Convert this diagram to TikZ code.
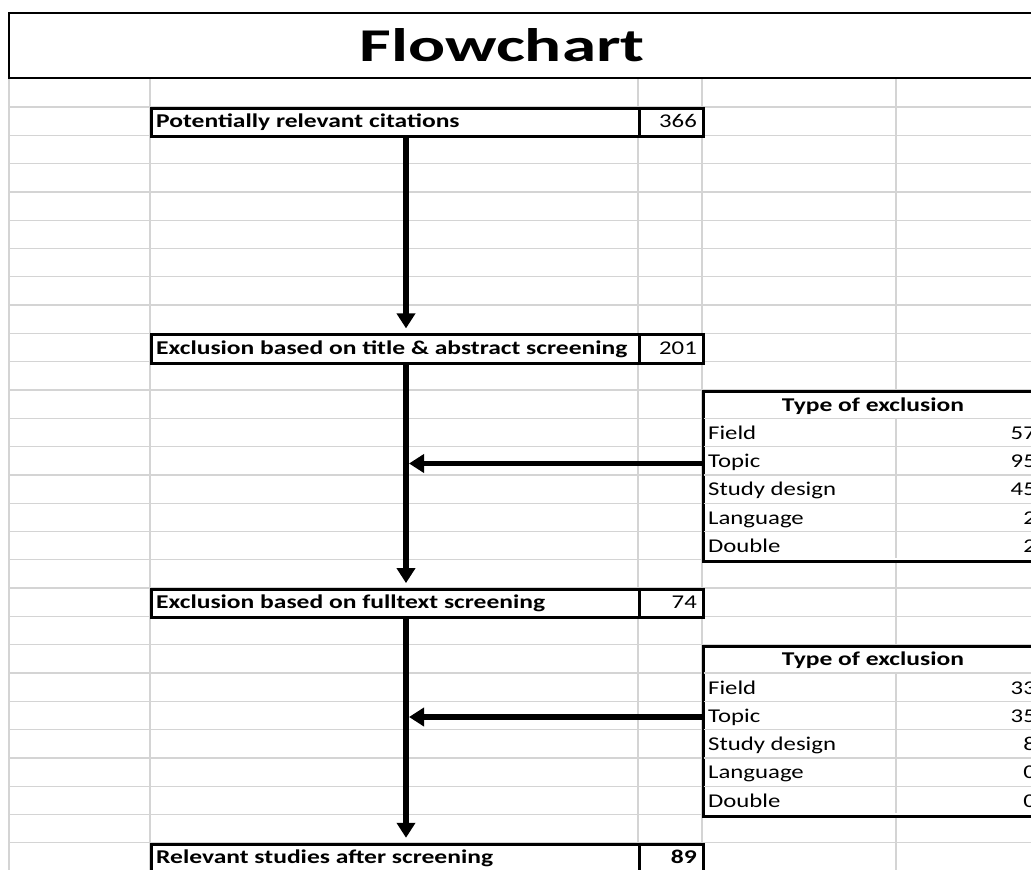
\documentclass[tikz,border=0pt]{standalone}
\usepackage{fontspec}
\setmainfont{Carlito}[FakeStretch=1.27, BoldFeatures={FakeStretch=1.31}]
\newfontfamily\titlefont{Carlito}[FakeStretch=1.47]
\usetikzlibrary{arrows.meta}
\definecolor{gridgray}{HTML}{D4D4D4}
\begin{document}
\begin{tikzpicture}[x=1pt,y=-1pt,
  grid/.style={draw=gridgray, line width=1.3pt},
  cellbox/.style={draw=black, line width=3pt, fill=white, minimum height=28.3pt, inner sep=0pt, anchor=north west},
  tablebox/.style={draw=black, line width=3pt, fill=white, minimum height=169.8pt, minimum width=345pt, inner sep=0pt, anchor=north west},
  lbl/.style={anchor=base west, inner sep=0pt, font=\fontsize{19.5}{22}\selectfont\bfseries},
  num/.style={anchor=base east, inner sep=0pt, font=\fontsize{19.5}{22}\selectfont},
  numb/.style={num, font=\fontsize{19.5}{22}\selectfont\bfseries},
  rowtxt/.style={anchor=base west, inner sep=0pt, font=\fontsize{19.5}{22}\selectfont},
  head/.style={anchor=base, inner sep=0pt, font=\fontsize{19.5}{22}\selectfont\bfseries},
  flow/.style={line width=5.5pt, -{Triangle[width=18pt,length=15pt]}},
]
\useasboundingbox (0,0) rectangle (1031,870);
\clip (0,0) rectangle (1031,870);
\fill[white] (0,0) rectangle (1031,870);
% spreadsheet grid
\foreach \k in {1,...,28} \draw[grid] (9,{107+28.3*(\k-1)}) -- (1031,{107+28.3*(\k-1)});
\foreach \x in {9,150,638,702,896} \draw[grid] (\x,77) -- (\x,870);
% title
\node[draw, line width=2pt, fill=white, minimum width=1100pt, minimum height=65pt, anchor=north west, inner sep=0pt] (titlecell) at (8,12) {};
\node[anchor=base, inner sep=0pt, font=\titlefont\fontsize{47}{50}\selectfont\bfseries] (title) at (502,61.7) {Flowchart};
% boxes
\node[cellbox, minimum width=488pt] (b1) at (150,107) {};
\node[cellbox, minimum width=64pt] (n1) at (638,107) {};
\node[lbl] (b1t) at (156,127.7) {Potentially relevant citations};
\node[num] (n1t) at (697,127.7) {366};
\node[cellbox, minimum width=488pt] (b2) at (150,333.4) {};
\node[cellbox, minimum width=64pt] (n2) at (638,333.4) {};
\node[lbl] (b2t) at (156,354.1) {Exclusion based on title \& abstract screening};
\node[num] (n2t) at (697,354.1) {201};
\node[cellbox, minimum width=488pt] (b3) at (150,588.1) {};
\node[cellbox, minimum width=64pt] (n3) at (638,588.1) {};
\node[lbl] (b3t) at (156,608.8) {Exclusion based on fulltext screening};
\node[num] (n3t) at (697,608.8) {74};
\node[cellbox, minimum width=488pt] (b4) at (150,842.8) {};
\node[cellbox, minimum width=64pt] (n4) at (638,842.8) {};
\node[lbl] (b4t) at (156,863.5) {Relevant studies after screening};
\node[numb] (n4t) at (697,863.5) {89};
% table 1
\node[tablebox] (t1) at (702,390) {};
\foreach \j in {1,...,5} \draw[grid] (703.5,{390+28.3*\j}) -- (1031,{390+28.3*\j});
\draw[grid] (896,418.3) -- (896,558.3);
\node[head] (t1h) at (873,411) {Type of exclusion};
\node[rowtxt] (t1r1) at (708,439.3) {Field};
\node[num] (t1v1) at (1036,439.3) {57};
\node[rowtxt] (t1r2) at (708,467.6) {Topic};
\node[num] (t1v2) at (1036,467.6) {95};
\node[rowtxt] (t1r3) at (708,495.9) {Study design};
\node[num] (t1v3) at (1036,495.9) {45};
\node[rowtxt] (t1r4) at (708,524.2) {Language};
\node[num] (t1v4) at (1036,524.2) {2};
\node[rowtxt] (t1r5) at (708,552.5) {Double};
\node[num] (t1v5) at (1036,552.5) {2};
% table 2
\node[tablebox] (t2) at (702,644.7) {};
\foreach \j in {1,...,5} \draw[grid] (703.5,{644.7+28.3*\j}) -- (1031,{644.7+28.3*\j});
\draw[grid] (896,673) -- (896,813);
\node[head] (t2h) at (873,665.7) {Type of exclusion};
\node[rowtxt] (t2r1) at (708,694) {Field};
\node[num] (t2v1) at (1036,694) {33};
\node[rowtxt] (t2r2) at (708,722.3) {Topic};
\node[num] (t2v2) at (1036,722.3) {35};
\node[rowtxt] (t2r3) at (708,750.6) {Study design};
\node[num] (t2v3) at (1036,750.6) {8};
\node[rowtxt] (t2r4) at (708,778.9) {Language};
\node[num] (t2v4) at (1036,778.9) {0};
\node[rowtxt] (t2r5) at (708,807.2) {Double};
\node[num] (t2v5) at (1036,807.2) {0};
% connectors
\coordinate (axis) at (406,0);
\coordinate (j1) at (406,463.5);
\coordinate (j2) at (406,717);
\draw[flow, shorten >=5pt] (axis |- b1.south) -- (axis |- b2.north);
\draw[flow, shorten >=5pt] (axis |- b2.south) -- (axis |- b3.north);
\draw[flow, shorten >=5pt] (axis |- b3.south) -- (axis |- b4.north);
\draw[flow, shorten >=3pt] (t1.west |- j1) -- (j1);
\draw[flow, shorten >=3pt] (t2.west |- j2) -- (j2);
\end{tikzpicture}
\end{document}
